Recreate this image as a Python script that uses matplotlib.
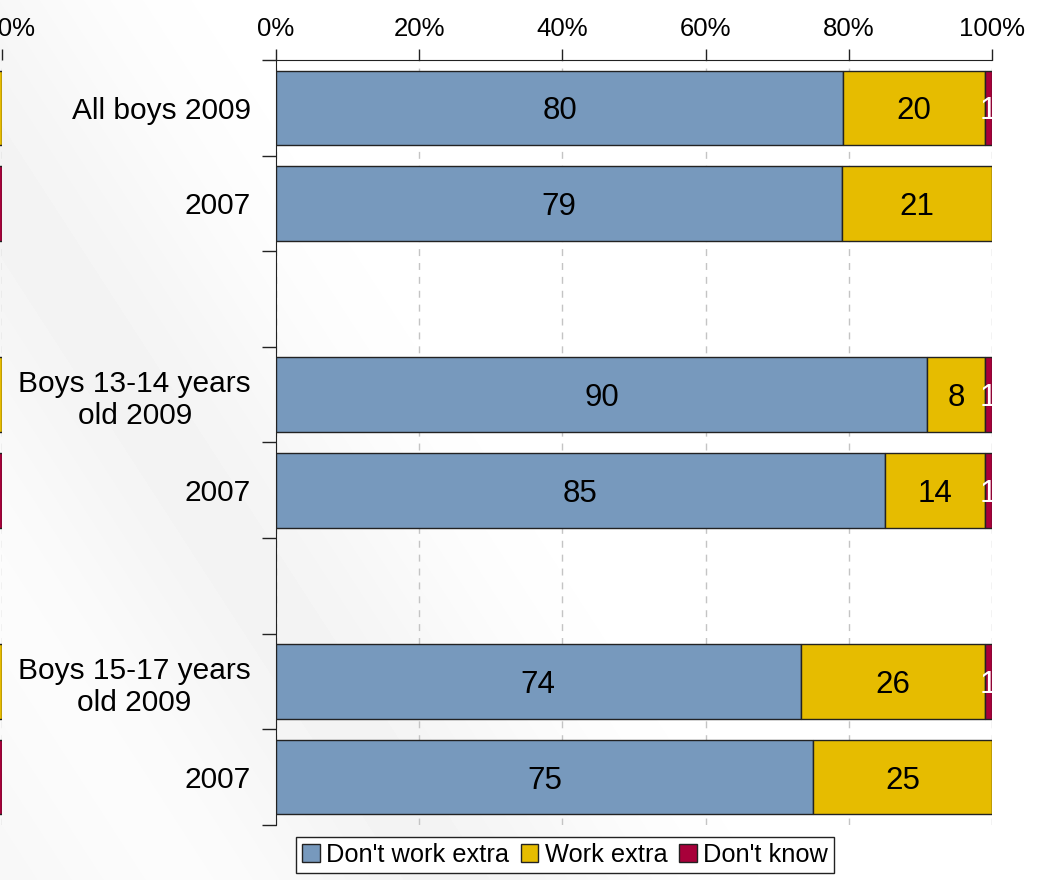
import numpy as np
import matplotlib
matplotlib.use("Agg")
import matplotlib.pyplot as plt
from matplotlib.patches import Patch

plt.rcParams['font.family'] = ['Liberation Sans', 'DejaVu Sans']

# ---- data ----
categories = ["All boys 2009", "2007", "", "Boys 13-14 years\nold 2009", "2007", "",
              "Boys 15-17 years\nold 2009", "2007"]
dont_work = [80, 79, None, 90, 85, None, 74, 75]
work_extra = [20, 21, None, 8, 14, None, 26, 25]
dont_know = [1, 0, None, 1, 1, None, 1, 0]
series_names = ["Don't work extra", "Work extra", "Don't know"]
colors = ["#7799BD", "#E6BC00", "#A8003A"]
label_colors = ["black", "black", "white"]
xticks = [0, 20, 40, 60, 80, 100]
xtick_labels = ["0%", "20%", "40%", "60%", "80%", "100%"]
# visible tail of a neighbouring panel (cut at the left edge)
left_tail_colors = ["#E6BC00", "#A8003A", None, "#E6BC00", "#A8003A", None, "#E6BC00", "#A8003A"]
left_tail = [5, 5, None, 5, 5, None, 5, 5]

W, H = 1047, 880
fig = plt.figure(figsize=(W / 100, H / 100), dpi=100)

# background soft swoosh
bg = fig.add_axes([0, 0, 1, 1], zorder=-10)
yy, xx = np.mgrid[0:H, 0:W]
d = (xx * 0.85 + (H - yy) * 0.55 - 380) / 220.0
band = np.exp(-((d - 0.0) ** 2) / 0.6) * 0.045
band += np.exp(-((d + 1.8) ** 2) / 0.4) * 0.03
img = np.clip(1 - band, 0, 1)
bg.imshow(img, cmap="gray", vmin=0, vmax=1, extent=[0, W, H, 0], aspect="auto")
bg.axis("off")

ax_left_px, ax_right_px, ax_top_px, ax_bot_px = 276, 992, 60, 825
pos = [ax_left_px / W, 1 - ax_bot_px / H, (ax_right_px - ax_left_px) / W, (ax_bot_px - ax_top_px) / H]
ax = fig.add_axes(pos)
ax.patch.set_alpha(0)

n = len(categories)
ypos = np.arange(n) + 0.5
bar_h = 0.78
for i in range(n):
    vals = [dont_work[i], work_extra[i], dont_know[i]]
    if vals[0] is None:
        continue
    tot = sum(vals)
    left = 0.0
    for j, v in enumerate(vals):
        if v == 0:
            continue
        w = v / tot * 100
        ax.barh(ypos[i], w, left=left, height=bar_h, color=colors[j],
                edgecolor="#222222", linewidth=1.0, zorder=3)
        ax.text(left + w / 2, ypos[i], str(v), ha="center", va="center_baseline",
                fontsize=22.5, color=label_colors[j], zorder=4, clip_on=True)
        left += w

ax.set_xlim(0, 100)
ax.set_ylim(n, 0)
ax.xaxis.tick_top()
ax.set_xticks(xticks)
ax.set_xticklabels(xtick_labels, fontsize=18.5)
ax.tick_params(axis="x", direction="out", length=8, width=1, color="#222222", pad=6)
ax.set_yticks(ypos)
ax.set_yticklabels(categories, fontsize=21.5, ha="right")
ax.tick_params(axis="y", length=0, pad=18)
for lab in ax.get_yticklabels():
    lab.set_multialignment("center")
ax.set_yticks(np.arange(n + 1), minor=True)
ax.tick_params(axis="y", which="minor", direction="out", length=10, width=1, color="#222222")
ax.grid(axis="x", linestyle=(0, (5, 5)), color="#c4c4c4", linewidth=1, zorder=0)
for s in ["right", "bottom"]:
    ax.spines[s].set_visible(False)
ax.spines["top"].set_color("#222222")
ax.spines["left"].set_color("#222222")

handles = [Patch(facecolor=c, edgecolor="#222222", linewidth=1) for c in colors]
leg = fig.legend(handles, series_names, loc="center", bbox_to_anchor=(565 / W, 1 - 855 / H),
                 ncol=3, fontsize=18.3, frameon=True, fancybox=False, edgecolor="#222222",
                 handlelength=0.7, handleheight=0.7, handletextpad=0.25, columnspacing=0.45,
                 borderpad=0.22, framealpha=1)
leg.get_frame().set_linewidth(1)

# neighbouring panel, mostly outside the figure
axl = fig.add_axes([(2 - 716) / W, pos[1], 716 / W, pos[3]])
axl.patch.set_alpha(0)
for i in range(n):
    if left_tail[i] is None:
        continue
    axl.barh(ypos[i], left_tail[i], left=100 - left_tail[i], height=bar_h,
             color=left_tail_colors[i], edgecolor="#222222", linewidth=1.0, zorder=3)
axl.set_xlim(0, 100)
axl.set_ylim(n, 0)
axl.xaxis.tick_top()
axl.set_xticks([100])
axl.set_xticklabels(["100%"], fontsize=18.5)
axl.tick_params(axis="x", direction="out", length=8, width=1, color="#222222", pad=6)
axl.set_yticks([])
axl.grid(axis="x", linestyle=(0, (5, 5)), color="#c4c4c4", linewidth=1, zorder=0)
for s in axl.spines.values():
    s.set_visible(False)

fig.savefig("out.png", dpi=100)
